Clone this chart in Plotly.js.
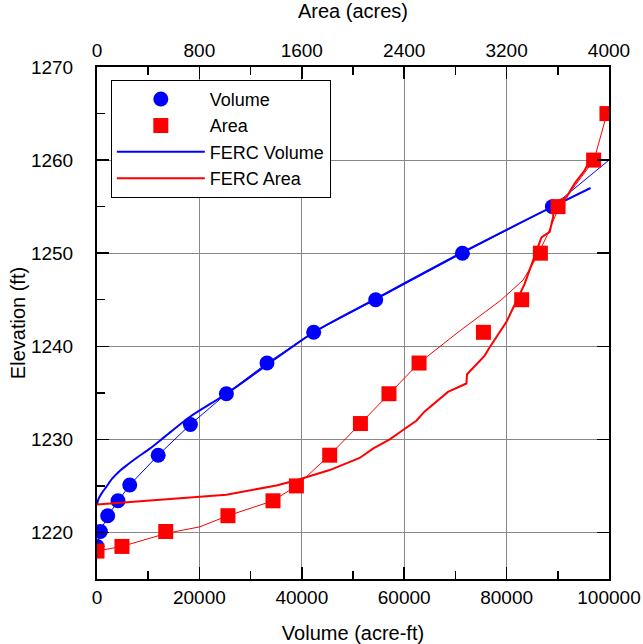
<!DOCTYPE html>
<html>
<head>
<meta charset="utf-8">
<script src="https://cdn.plot.ly/plotly-3.0.1.min.js"></script>
<style>html,body{margin:0;padding:0;background:#fff;}#chart{width:643px;height:644px;}</style>
</head>
<body>
<div id="chart"></div>
<script>
// Measured volume points (acre-ft vs ft)
const volVolume = [0, 660, 2090, 4100, 6390, 11950, 18240, 25270, 33200, 42320, 54430, 71370, 88950];
const volElev   = [1218.5, 1220.1, 1221.8, 1223.4, 1225.1, 1228.3, 1231.6, 1234.9, 1238.2, 1241.5, 1245.0, 1250.0, 1255.0];

// Thin fitted volume curve
const volFitVolume = [0, 660, 2090, 4100, 6390, 11950, 18240, 25270, 33200, 42320, 54430, 71370, 88950, 100000];
const volFitElev   = [1218.5, 1220.1, 1221.8, 1223.4, 1225.1, 1228.3, 1231.6, 1234.9, 1238.2, 1241.5, 1245.0, 1250.0, 1255.0, 1260.0];

// Measured area points (acres vs ft)
const areaAcres = [0, 195, 537, 1023, 1375, 1558, 1818, 2058, 2281, 2516, 3019, 3318, 3464, 3602, 3880, 3984];
const areaElev  = [1218.0, 1218.5, 1220.1, 1221.8, 1223.4, 1225.0, 1228.3, 1231.7, 1234.9, 1238.2, 1241.5, 1245.0, 1250.0, 1255.0, 1260.0, 1265.0];

// Thin fitted area curve
const areaFitAcres = [0, 195, 542, 802, 1023, 1375, 1558, 1818, 2058, 2281, 2516, 2820, 3160, 3328, 3420, 3520, 3610, 3720, 3883, 3984];
const areaFitElev  = [1218.0, 1218.5, 1219.9, 1220.6, 1221.8, 1223.4, 1225.0, 1228.3, 1231.7, 1234.9, 1238.2, 1241.5, 1245.0, 1247.1, 1249.2, 1252.0, 1255.0, 1257.0, 1260.0, 1265.0];

// FERC volume curve
const fercVolVolume = [0, 300, 900, 1830, 3000, 4430, 6000, 7700, 10300, 13500, 18100, 25270, 33200, 42300, 54400, 71400, 89000, 96400];
const fercVolElev   = [1223.0, 1223.6, 1224.2, 1224.9, 1225.8, 1226.6, 1227.3, 1228.0, 1229.0, 1230.4, 1232.4, 1234.9, 1238.0, 1241.5, 1245.1, 1250.1, 1255.0, 1257.0];

// FERC area curve
const fercAreaAcres = [0, 500, 1011, 1402, 1558, 1818, 2052, 2156, 2287, 2391, 2495, 2560, 2664, 2742, 2886, 2891, 3029, 3068, 3198, 3277, 3341, 3380, 3472, 3537, 3563, 3576, 3667, 3732, 3810, 3870];
const fercAreaElev  = [1223.0, 1223.5, 1224.05, 1225.05, 1225.6, 1226.7, 1228.0, 1229.0, 1230.0, 1231.0, 1232.0, 1233.0, 1234.2, 1235.1, 1236.0, 1237.0, 1239.0, 1239.9, 1242.6, 1244.9, 1246.7, 1248.2, 1251.7, 1252.3, 1253.9, 1255.5, 1256.0, 1257.5, 1258.9, 1260.5];

const BLUE = '#0000ff', RED = '#ff0000';
const FONT = 'Liberation Sans, Arial, Helvetica, sans-serif';

const traces = [
  {x: volFitVolume, y: volFitElev, mode: 'lines', line: {color: BLUE, width: 1}, showlegend: false, hoverinfo: 'skip', xaxis: 'x', yaxis: 'y'},
  {x: fercVolVolume, y: fercVolElev, mode: 'lines', name: 'FERC Volume', line: {color: BLUE, width: 2, shape: 'spline', smoothing: 0.8}, legendrank: 3, xaxis: 'x', yaxis: 'y'},
  {x: volVolume, y: volElev, mode: 'markers', name: 'Volume', marker: {color: BLUE, size: 15, symbol: 'circle'}, legendrank: 1, xaxis: 'x', yaxis: 'y'},
  {x: areaFitAcres, y: areaFitElev, mode: 'lines', line: {color: RED, width: 1}, showlegend: false, hoverinfo: 'skip', xaxis: 'x2', yaxis: 'y'},
  {x: fercAreaAcres, y: fercAreaElev, mode: 'lines', name: 'FERC Area', line: {color: RED, width: 2}, legendrank: 4, xaxis: 'x2', yaxis: 'y'},
  {x: areaAcres, y: areaElev, mode: 'markers', name: 'Area', marker: {color: RED, size: 15, symbol: 'square'}, legendrank: 2, xaxis: 'x2', yaxis: 'y'},
  {x: [], y: [], mode: 'markers', showlegend: false, xaxis: 'x', yaxis: 'y2'}
];

const axisCommon = {
  ticks: 'inside', ticklen: 12, tickwidth: 1.5, tickcolor: '#000',
  showline: true, linecolor: '#000', linewidth: 2, zeroline: false,
  tickfont: {size: 19, color: '#000', family: FONT}, tickformat: 'd'
};

const layout = {
  width: 643, height: 644,
  margin: {l: 97, r: 34, t: 67, b: 65, pad: 0},
  paper_bgcolor: '#fff', plot_bgcolor: '#fff',
  font: {family: FONT, color: '#000'},
  showlegend: true,
  legend: {
    x: 0.027, y: 0.975, xanchor: 'left', yanchor: 'top',
    bgcolor: '#fff', bordercolor: '#000', borderwidth: 1,
    font: {size: 18, family: FONT, color: '#000'}, itemwidth: 88
  },
  xaxis: Object.assign({}, axisCommon, {
    range: [0, 100000], tick0: 0, dtick: 20000, anchor: 'y',
    showgrid: true, gridcolor: '#888', gridwidth: 1,
    minor: {dtick: 10000, ticks: 'inside', ticklen: 8, tickcolor: '#000', tickwidth: 1.5, showgrid: false},
    title: {text: 'Volume (acre-ft)', font: {size: 20, family: FONT, color: '#000'}}
  }),
  xaxis2: Object.assign({}, axisCommon, {
    range: [0, 4000], tick0: 0, dtick: 800, overlaying: 'x', side: 'top', anchor: 'y',
    showgrid: false,
    minor: {dtick: 400, ticks: 'inside', ticklen: 8, tickcolor: '#000', tickwidth: 1.5, showgrid: false},
    title: {text: 'Area (acres)', font: {size: 20, family: FONT, color: '#000'}}
  }),
  yaxis: Object.assign({}, axisCommon, {
    range: [1215, 1270], tick0: 1220, dtick: 10, anchor: 'x',
    showgrid: true, gridcolor: '#888', gridwidth: 1, ticklabelstandoff: 18,
    minor: {dtick: 5, ticks: 'inside', ticklen: 8, tickcolor: '#000', tickwidth: 1.5, showgrid: false},
    title: {text: 'Elevation (ft)', font: {size: 20, family: FONT, color: '#000'}}
  }),
  yaxis2: Object.assign({}, axisCommon, {
    range: [1215, 1270], tick0: 1220, dtick: 10, overlaying: 'y', side: 'right', anchor: 'x',
    showgrid: false, showticklabels: false
  })
};

Plotly.newPlot('chart', traces, layout, {staticPlot: true, displayModeBar: false});
</script>
</body>
</html>
